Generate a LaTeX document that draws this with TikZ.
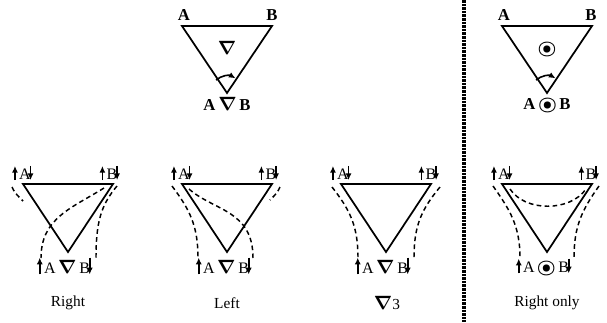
\documentclass[tikz,border=0pt]{standalone}
\usepackage{fontspec}
\setmainfont{Liberation Serif}
\usepackage{bm}
\usetikzlibrary{arrows.meta,calc}
\newcommand\ulab[4]{%
  \node[blbl] (#1) at (#2,#3) {#4};
  \draw[arr] ($(#1.south west)+(-4,0.5)$) -- ($(#1.north west)+(-4,-2.5)$);
  \draw[arr] ($(#1.north east)+(-0.5,-2.5)$) -- ($(#1.south east)+(-0.5,0.5)$);}
\newcommand\cdotsym[1]{{\fontsize{#1}{#1}\selectfont\ooalign{$\bm{\bigcirc}$\cr\hfil$\bm{\bullet}$\hfil\cr}}}
\begin{document}
\begin{tikzpicture}[x=0.75pt,y=-0.75pt,
  tri/.style={line width=1.3pt, line join=miter},
  dsh/.style={line width=1.1pt, dash pattern=on 3.5pt off 2.5pt},
  tlbl/.style={font=\fontsize{12.5}{12.5}\selectfont\bfseries, inner sep=0},
  blbl/.style={font=\fontsize{12}{12}\selectfont, inner sep=0},
  caplbl/.style={font=\fontsize{11.5}{12}\selectfont, inner sep=0},
  arr/.style={line width=1.2pt, -{Latex[length=5pt,width=4.5pt]}},
  sep/.style={line width=2.4pt, dash pattern=on 2pt off 0.7pt},
  turn/.style={line width=1.2pt, -{Latex[length=5pt,width=4.5pt]}}]
\useasboundingbox (0,0) rectangle (607,322);

% separator
\coordinate (s1) at (464,0);
\coordinate (s2) at (464,322);
\draw[sep] (s1) -- (s2);

% ---------- top left triangle ----------
\coordinate (t1l) at (182,26);
\coordinate (t1r) at (272,26);
\coordinate (t1a) at (227,93);
\draw[tri] (t1l) -- (t1r) -- (t1a) -- cycle;
\node[tlbl] (t1A) at (184,15) {A};
\node[tlbl] (t1B) at (272,15) {B};
\node[tlbl] (t1s) at (227,48) {\fontsize{14}{14}\selectfont$\bm{\nabla}$};
\node[tlbl] (t1L) at (227,104) {A\,{\fontsize{14}{14}\selectfont$\bm{\nabla}$}\,B};
\draw[turn] (t1a) ++(-130:17) arc[start angle=-130, end angle=-60, radius=17];

% ---------- top right triangle ----------
\coordinate (t2l) at (502,26);
\coordinate (t2r) at (592,26);
\coordinate (t2a) at (547,93);
\draw[tri] (t2l) -- (t2r) -- (t2a) -- cycle;
\node[tlbl] (t2A) at (504,15) {A};
\node[tlbl] (t2B) at (591,15) {B};
\node[tlbl] (t2s) at (547,48) {\cdotsym{13}};
\node[tlbl] (t2L) at (547,104) {A\,\cdotsym{13}\,B};
\draw[turn] (t2a) ++(-130:17) arc[start angle=-130, end angle=-60, radius=17];

% ---------- Right ----------
\coordinate (r1l) at (23,184);
\coordinate (r1r) at (113,184);
\coordinate (r1a) at (68,252);
\draw[tri] (r1l) -- (r1r) -- (r1a) -- cycle;
\ulab{r1A}{25}{174}{A}
\ulab{r1B}{112}{174}{B}
\ulab{r1L}{67}{267}{A\,{\fontsize{14}{14}\selectfont$\bm{\nabla}$}\,B}
\node[caplbl] (r1c) at (68,303) {Right};
\draw[dsh] (12,187) .. controls (15,193) .. (23,201);
\draw[dsh] (104,188) .. controls (72,208) and (41,218) .. (41,258);
\draw[dsh] (117,186) .. controls (101,205) and (96,222) .. (96,258);

% ---------- Left ----------
\coordinate (r2l) at (182,184);
\coordinate (r2r) at (272,184);
\coordinate (r2a) at (227,252);
\draw[tri] (r2l) -- (r2r) -- (r2a) -- cycle;
\ulab{r2A}{184}{174}{A}
\ulab{r2B}{271}{174}{B}
\ulab{r2L}{226}{267}{A\,{\fontsize{14}{14}\selectfont$\bm{\nabla}$}\,B}
\node[caplbl] (r2c) at (227,303) {Left};
\draw[dsh] (172,186) .. controls (190,210) and (198,226) .. (198,258);
\draw[dsh] (189,189) .. controls (214,211) and (253,210) .. (253,258);
\draw[dsh] (280,187) .. controls (277,193) .. (270,200);

% ---------- nabla 3 ----------
\coordinate (r3l) at (341,184);
\coordinate (r3r) at (431,184);
\coordinate (r3a) at (386,252);
\draw[tri] (r3l) -- (r3r) -- (r3a) -- cycle;
\ulab{r3A}{343}{174}{A}
\ulab{r3B}{431}{174}{B}
\ulab{r3L}{385}{267}{A\,{\fontsize{14}{14}\selectfont$\bm{\nabla}$}\,B}
\node[caplbl] (r3c) at (387,303) {{\fontsize{14}{14}\selectfont$\bm{\nabla}$}3};
\draw[dsh] (332,187) .. controls (350,210) and (358,226) .. (358,258);
\draw[dsh] (440,187) .. controls (421,210) and (414,226) .. (414,258);

% ---------- Right only ----------
\coordinate (r4l) at (502,184);
\coordinate (r4r) at (592,184);
\coordinate (r4a) at (547,252);
\draw[tri] (r4l) -- (r4r) -- (r4a) -- cycle;
\ulab{r4A}{504}{174}{A}
\ulab{r4B}{591}{174}{B}
\ulab{r4L}{546}{267}{A\,\cdotsym{12}\,B}
\node[caplbl] (r4c) at (547,303) {Right only};
\draw[dsh] (493,186) .. controls (510,210) and (520,226) .. (520,258);
\draw[dsh] (510,189) .. controls (525,212) and (570,212) .. (586,189);
\draw[dsh] (599,186) .. controls (582,210) and (574,226) .. (574,258);
\end{tikzpicture}
\end{document}
